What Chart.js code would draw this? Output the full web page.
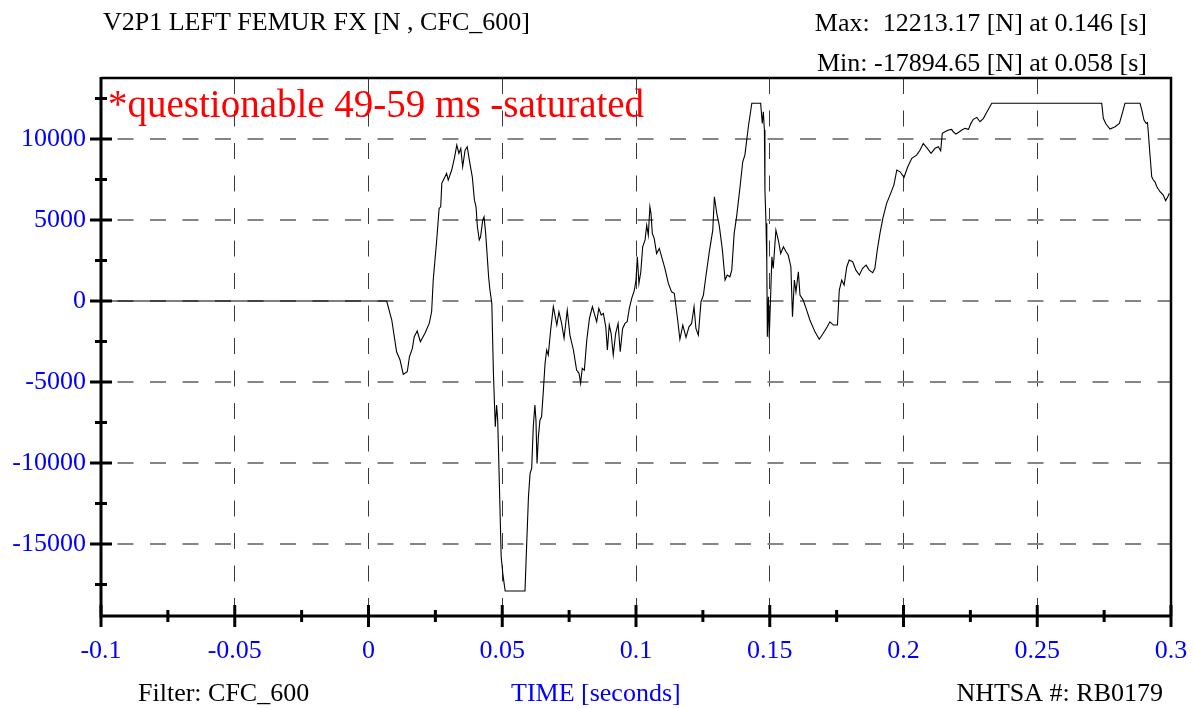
<!DOCTYPE html>
<html>
<head>
<meta charset="utf-8">
<script src="https://cdn.jsdelivr.net/npm/chart.js@4.4.1/dist/chart.umd.min.js"></script>
<style>
  html, body { margin: 0; padding: 0; background: #fff; }
  #wrap { width: 1195px; height: 709px; }
</style>
</head>
<body>
<div id="wrap"><canvas id="femur" width="1195" height="709"></canvas></div>
<script>
// time [s] and force [N]
const timeS = [
  -0.1, 0.0068, 0.0087, 0.0105, 0.0118, 0.0130, 0.0145, 0.0153, 0.0164, 0.0171,
  0.0182, 0.0194, 0.0211, 0.0227, 0.0236, 0.0242, 0.0255, 0.0264, 0.0270, 0.0274,
  0.0280, 0.0286, 0.0292, 0.0298, 0.0311, 0.0321, 0.0330, 0.0338, 0.0345, 0.0352,
  0.0361, 0.0369, 0.0379, 0.0388, 0.0396, 0.0402, 0.0407, 0.0414, 0.0419, 0.0427,
  0.0432, 0.0438, 0.0444, 0.0449, 0.0454, 0.0461, 0.0467, 0.0470, 0.0474, 0.0479,
  0.0483, 0.0487, 0.0492, 0.0496, 0.0502, 0.0507, 0.0511, 0.0585, 0.0591, 0.0598,
  0.0604, 0.0610, 0.0616, 0.0622, 0.0626, 0.0630, 0.0635, 0.0641, 0.0647, 0.0653,
  0.0660, 0.0666, 0.0672, 0.0681, 0.0691, 0.0704, 0.0712, 0.0722, 0.0731, 0.0743,
  0.0753, 0.0766, 0.0778, 0.0787, 0.0793, 0.0799, 0.0807, 0.0816, 0.0826, 0.0837,
  0.0844, 0.0853, 0.0861, 0.0870, 0.0878, 0.0887, 0.0893, 0.0900, 0.0907, 0.0915,
  0.0924, 0.0933, 0.0941, 0.0950, 0.0959, 0.0967, 0.0975, 0.0984, 0.0994, 0.1000,
  0.1005, 0.1011, 0.1018, 0.1025, 0.1034, 0.1040, 0.1046, 0.1052, 0.1056, 0.1061,
  0.1068, 0.1077, 0.1087, 0.1096, 0.1108, 0.1121, 0.1133, 0.1143, 0.1152, 0.1158,
  0.1164, 0.1175, 0.1187, 0.1198, 0.1208, 0.1217, 0.1224, 0.1233, 0.1243, 0.1252,
  0.1261, 0.1274, 0.1287, 0.1293, 0.1302, 0.1311, 0.1323, 0.1333, 0.1341, 0.1351,
  0.1358, 0.1367, 0.1376, 0.1389, 0.1399, 0.1407, 0.1420, 0.1433, 0.1466, 0.1472,
  0.1476, 0.1480, 0.1482, 0.1486, 0.1489, 0.1491, 0.1495, 0.1498, 0.1504, 0.1508,
  0.1513, 0.1523, 0.1532, 0.1541, 0.1551, 0.1561, 0.1569, 0.1579, 0.1585, 0.1592,
  0.1598, 0.1607, 0.1613, 0.1625, 0.1638, 0.1650, 0.1669, 0.1685, 0.1700, 0.1715,
  0.1725, 0.1738, 0.1753, 0.1760, 0.1769, 0.1778, 0.1788, 0.1797, 0.1810, 0.1822,
  0.1835, 0.1847, 0.1860, 0.1872, 0.1885, 0.1893, 0.1902, 0.1912, 0.1924, 0.1937,
  0.1952, 0.1964, 0.1975, 0.1987, 0.2002, 0.2016, 0.2031, 0.2049, 0.2062, 0.2074,
  0.2089, 0.2103, 0.2118, 0.2130, 0.2139, 0.2145, 0.2155, 0.2168, 0.2180, 0.2186,
  0.2196, 0.2209, 0.2218, 0.2230, 0.2243, 0.2252, 0.2261, 0.2274, 0.2286, 0.2299,
  0.2309, 0.2317, 0.2330, 0.2741, 0.2747, 0.2757, 0.2772, 0.2791, 0.2807, 0.2816,
  0.2828, 0.2884, 0.2891, 0.2899, 0.2907, 0.2912, 0.2915, 0.2921, 0.2928, 0.2934,
  0.2940, 0.2947, 0.2959, 0.2971, 0.2980, 0.2988, 0.2994
];
const forceN = [
  0, 0, -1170, -3130, -3640, -4520, -4360, -3440, -2920, -2200,
  -1850, -2510, -1990, -1380, -660, 1300, 3770, 5720, 5820, 7270,
  7470, 7670, 7880, 7470, 8090, 8810, 9630, 9120, 9430, 8290,
  9320, 9530, 8500, 7670, 6230, 5820, 4590, 3770, 3970, 5000,
  5200, 4180, 2730, 1500, 680, -140, -4460, -5910, -7760, -6420,
  -7350, -9820, -13110, -15780, -16810, -17430, -17894.65, -17894.65, -15170, -12080,
  -10640, -10330, -7760, -6420, -7350, -10020, -8380, -7350, -7140, -5700,
  -3850, -3020, -3330, -1790, -350, -1480, -660, -1380, -2300, -560,
  -2100, -3020, -4260, -4460, -5080, -4150, -4260, -2410, -1070, -350,
  -760, -1280, -450, -860, -760, -1590, -3020, -1480, -1990, -3330,
  -1990, -1380, -3130, -1690, -1380, -1280, -450, 170, 680, 1300,
  2730, 1090, 1810, 3350, 3770, 4690, 4070, 5820, 5410, 4180,
  3870, 2940, 3250, 2730, 2020, 1090, 570, 480, -660, -1480,
  -2360, -1480, -2240, -1590, -1380, -350, -1690, -2100, -40, 370,
  1500, 3040, 4380, 6440, 5410, 4690, 3150, 1300, 1610, 1500,
  1910, 4180, 5200, 7060, 8600, 9010, 10760, 12213.17, 12213.17, 10970,
  11690, 10560, 6850, 4800, 2330, -2200, 270, -2300, 680, 2730,
  2020, 4380, 3770, 2940, 3350, 3040, 2840, 2120, -970, 1300,
  570, 1810, 370, 60, -560, -1170, -1900, -2360, -1990, -1590,
  -1280, -1480, -1480, 680, 1300, 990, 2120, 2530, 2430, 1910,
  1610, 2020, 2220, 1910, 1750, 2020, 3150, 4180, 5200, 6030,
  6650, 7160, 8090, 7980, 7640, 8290, 8810, 9010, 9320, 9730,
  9430, 9120, 9430, 9530, 9280, 10350, 10450, 10560, 10600, 10450,
  10310, 10450, 10560, 10660, 10600, 10970, 11220, 11340, 11070, 11280,
  11590, 11830, 12213.17, 12213.17, 11280, 10930, 10620, 10760, 10970, 11480,
  12213.17, 12213.17, 11790, 11170, 10970, 11010, 10450, 9120, 7670, 7470,
  7360, 7060, 6750, 6540, 6190, 6440, 6650
];

const xTickVals = [-0.1, -0.05, 0, 0.05, 0.1, 0.15, 0.2, 0.25, 0.3];
const xMinorVals = [-0.075, -0.025, 0.025, 0.075, 0.125, 0.175, 0.225, 0.275];
const yTickVals = [10000, 5000, 0, -5000, -10000, -15000];
const yMinorVals = [12500, 7500, 2500, -2500, -7500, -12500, -17500];

const titleText = 'V2P1 LEFT FEMUR FX [N , CFC_600]';
const maxText = 'Max:  12213.17 [N] at 0.146 [s]';
const minText = 'Min: -17894.65 [N] at 0.058 [s]';
const noteText = '*questionable 49-59 ms -saturated';
const filterText = 'Filter: CFC_600';
const xTitleText = 'TIME [seconds]';
const testText = 'NHTSA #: RB0179';

const SERIF = "'Liberation Serif', 'Times New Roman', serif";

const framePlugin = {
  id: 'frame',
  afterDraw(chart) {
    const ctx = chart.ctx;
    const a = chart.chartArea;
    const xs = chart.scales.x, ys = chart.scales.y;
    ctx.save();
    ctx.strokeStyle = '#000';
    ctx.lineCap = 'butt';

    // top + right frame
    ctx.lineWidth = 2.5;
    ctx.beginPath();
    ctx.moveTo(a.left, a.top);
    ctx.lineTo(a.right, a.top);
    ctx.lineTo(a.right, a.bottom);
    ctx.stroke();

    // axes
    ctx.lineWidth = 3;
    ctx.beginPath();
    ctx.moveTo(a.left, a.top - 1);
    ctx.lineTo(a.left, a.bottom);
    ctx.lineTo(a.right + 1, a.bottom);
    ctx.stroke();

    // tick marks, crossing the axis
    ctx.lineWidth = 3;
    ctx.beginPath();
    xTickVals.forEach(v => {
      const px = xs.getPixelForValue(v);
      ctx.moveTo(px, a.bottom - 11); ctx.lineTo(px, a.bottom + 11);
    });
    xMinorVals.forEach(v => {
      const px = xs.getPixelForValue(v);
      ctx.moveTo(px, a.bottom - 6); ctx.lineTo(px, a.bottom + 6);
    });
    yTickVals.forEach(v => {
      const py = ys.getPixelForValue(v);
      ctx.moveTo(a.left - 11, py); ctx.lineTo(a.left + 11, py);
    });
    yMinorVals.forEach(v => {
      const py = ys.getPixelForValue(v);
      ctx.moveTo(a.left - 6, py); ctx.lineTo(a.left + 6, py);
    });
    ctx.stroke();

    // texts
    ctx.textBaseline = 'alphabetic';
    ctx.font = '26px ' + SERIF;
    ctx.fillStyle = '#000';
    ctx.textAlign = 'left';
    ctx.fillText(titleText, 103, 30);
    ctx.fillText(filterText, 138, 701);
    ctx.textAlign = 'right';
    ctx.fillText(maxText, 1147, 31);
    ctx.fillText(minText, 1147, 71);
    ctx.fillText(testText, 1163, 701);
    ctx.textAlign = 'left';
    ctx.fillStyle = '#0000ff';
    ctx.fillText(xTitleText, 511, 701);

    ctx.font = '39px ' + SERIF;
    ctx.fillStyle = '#ff0000';
    ctx.fillText(noteText, 108, 117);
    ctx.restore();
  }
};

new Chart(document.getElementById('femur'), {
  type: 'scatter',
  data: {
    datasets: [{
      data: timeS.map((t, i) => ({ x: t, y: forceN[i] })),
      showLine: true,
      borderColor: '#000',
      borderWidth: 1.1,
      pointRadius: 0,
      tension: 0
    }]
  },
  options: {
    responsive: false,
    animation: false,
    events: [],
    layout: { padding: { left: 0, top: 78, right: 24, bottom: 0 } },
    plugins: { legend: { display: false }, tooltip: { enabled: false } },
    scales: {
      x: {
        type: 'linear',
        min: -0.1,
        max: 0.3,
        afterBuildTicks: scale => { scale.ticks = xTickVals.map(v => ({ value: v })); },
        afterFit: scale => { scale.height = 93; scale.paddingLeft = 0; scale.paddingRight = 0; },
        ticks: {
          color: '#0000ff',
          font: { family: SERIF, size: 26, lineHeight: 1.2 },
          padding: 20,
          maxRotation: 0,
          autoSkip: false,
          callback: v => String(v)
        },
        grid: { color: '#3a3a3a', lineWidth: 1, drawTicks: false },
        border: { display: false, dash: [16, 16.5], dashOffset: 0 }
      },
      y: {
        type: 'linear',
        min: -19440,
        max: 13770,
        afterBuildTicks: scale => { scale.ticks = yTickVals.map(v => ({ value: v })); },
        afterFit: scale => { scale.width = 101; scale.paddingTop = 0; scale.paddingBottom = 0; },
        ticks: {
          color: '#0000ff',
          font: { family: SERIF, size: 26, lineHeight: 1.2 },
          padding: 15,
          autoSkip: false,
          callback: v => String(v)
        },
        grid: { color: '#858585', lineWidth: 2, drawTicks: false },
        border: { display: false, dash: [16, 16.5], dashOffset: 16 }
      }
    }
  },
  plugins: [framePlugin]
});
</script>
</body>
</html>
